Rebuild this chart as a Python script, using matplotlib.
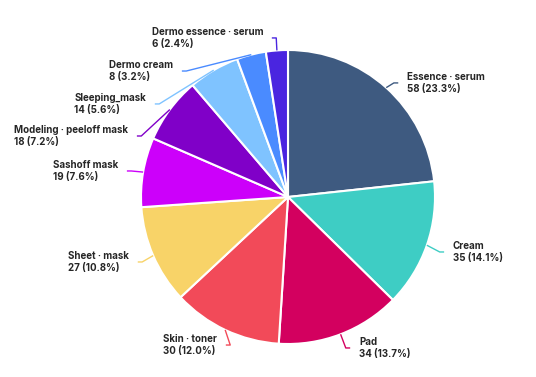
import matplotlib.pyplot as plt
import numpy as np

categories = ["Essence · serum", "Cream", "Pad", "Skin · toner", "Sheet · mask",
              "Sashoff mask", "Modeling · peeloff mask", "Sleeping_mask",
              "Dermo cream", "Dermo essence · serum"]
counts = [58, 35, 34, 30, 27, 19, 18, 14, 8, 6]
colors = ["#3e5a80", "#3ecdc4", "#d3005f", "#f24a59", "#f8d368",
          "#cc00fa", "#8000c8", "#7fc3ff", "#4a8bff", "#4a25e0"]

# label anchor (x, y) in pie units, text sits left or right of it
label_pos = [(0.81, 0.776), (1.122, -0.374), (0.483, -1.027), (-0.483, -1.007),
             (-1.082, -0.442), (-1.156, 0.177), (-1.088, 0.415), (-0.966, 0.633),
             (-0.782, 0.857), (-0.170, 1.082)]

W, H = 536, 377
cx, cy, R = 288, 197, 147

fig = plt.figure(figsize=(W / 100, H / 100), dpi=100)
ax = fig.add_axes([0, 0, 1, 1])

wedges, _ = ax.pie(counts, colors=colors, startangle=90, counterclock=False,
                   wedgeprops=dict(edgecolor="white", linewidth=1.5))

total = sum(counts)
for w, cat, n, (tx, ty), col in zip(wedges, categories, counts, label_pos, colors):
    ang = np.deg2rad((w.theta1 + w.theta2) / 2)
    ex, ey = np.cos(ang), np.sin(ang)
    side = 1 if tx > 0 else -1
    end_x = tx - side * 0.06
    elb_x = end_x - side * 0.03
    ax.plot([ex, elb_x, end_x], [ey, ty, ty], color=col, linewidth=1,
            solid_capstyle="butt")
    ax.text(tx, ty, f"{cat}\n{n} ({n / total * 100:.1f}%)",
            ha="left" if side > 0 else "right", va="center", multialignment="left",
            fontsize=7, fontweight="bold", family=["Inter", "DejaVu Sans"],
            color="#262626", linespacing=1.35)

ax.set_xlim(-cx / R, (W - cx) / R)
ax.set_ylim(-(H - cy) / R, cy / R)
ax.set_aspect("auto")
ax.axis("off")

fig.savefig("out.png", dpi=100)
